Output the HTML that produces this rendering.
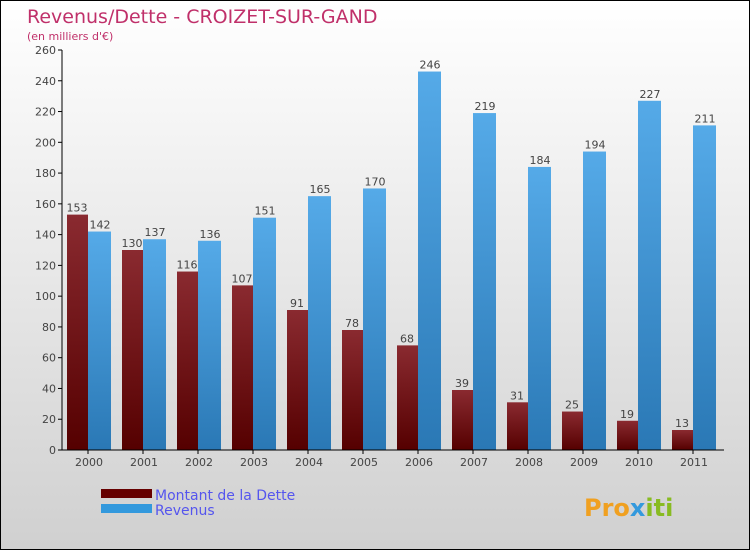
<!DOCTYPE html>
<html><head><meta charset="utf-8"><style>
body{margin:0}
#c{width:748px;height:548px;border:1px solid #000;background:linear-gradient(#ffffff,#d0d0d0);position:relative;overflow:hidden;font-family:"DejaVu Sans","Liberation Sans",sans-serif}
</style></head><body>
<div id="c">
<svg id="s" width="748" height="548">
<defs>
<linearGradient id="gd" x1="0" x2="0" y1="0" y2="1"><stop offset="0" stop-color="#8a2a30"/><stop offset="1" stop-color="#550000"/></linearGradient>
<linearGradient id="gr" x1="0" x2="0" y1="0" y2="1"><stop offset="0" stop-color="#55aae8"/><stop offset="1" stop-color="#2a78b5"/></linearGradient>
</defs>
<text x="26" y="22" font-size="19" fill="#c0306a">Revenus/Dette - CROIZET-SUR-GAND</text>
<text x="26" y="39" font-size="11" fill="#c0306a">(en milliers d'€)</text>
<g id="plot"></g>
<rect x="100" y="488" width="51" height="9" fill="#660000"/>
<rect x="100" y="503" width="51" height="9" fill="#3399dd"/>
<text x="154" y="499" font-size="14" fill="#5555ee">Montant de la Dette</text>
<text x="154" y="514" font-size="14" fill="#5555ee">Revenus</text>
<text x="583" y="515" font-size="24" font-weight="bold" fill="#f0a020">Pro<tspan fill="#3399dd">x</tspan><tspan fill="#88bb22">iti</tspan></text>
</svg>
</div>
<script>
const years=["2000","2001","2002","2003","2004","2005","2006","2007","2008","2009","2010","2011"];
const debt=[153,130,116,107,91,78,68,39,31,25,19,13];
const revenue=[142,137,136,151,165,170,246,219,184,194,227,211];
const ticks=[0,20,40,60,80,100,120,140,160,180,200,220,240,260];
const NS="http://www.w3.org/2000/svg";
const g=document.getElementById('plot');
const x0=61,y0=449,yTop=49,maxV=260,gw=55;
const y=v=>y0-(v/maxV)*(y0-yTop);
function mk(t,a,txt){const e=document.createElementNS(NS,t);for(const k in a)e.setAttribute(k,a[k]);if(txt!==undefined)e.textContent=txt;g.appendChild(e);return e;}
ticks.forEach(t=>{
 let l=mk('line',{x1:x0-4,x2:x0,y1:y(t),y2:y(t),stroke:'#000'});
 
 
 let tx=mk('text',{x:x0-6,y:y(t)+4,'font-size':11,'text-anchor':'end',fill:'#444'},t);
 
 
});
years.forEach((yr,i)=>{
 const gx=x0+i*gw;
 let b=mk('rect',{x:gx+5,y:y(debt[i]),width:21,height:y0-y(debt[i]),fill:'url(#gd)'});
 
 
 let r=mk('rect',{x:gx+26,y:y(revenue[i]),width:23,height:y0-y(revenue[i]),fill:'url(#gr)'});
 
 
 let v1=mk('text',{x:gx+15,y:y(debt[i])-3,'font-size':11,'text-anchor':'middle',fill:'#444'},debt[i]);
 
 
 let v2=mk('text',{x:gx+38,y:y(revenue[i])-3,'font-size':11,'text-anchor':'middle',fill:'#444'},revenue[i]);
 
 
 let tk=mk('line',{x1:gx+26,x2:gx+26,y1:y0,y2:y0+4,stroke:'#000'});
 
 
 let lb=mk('text',{x:gx+27,y:y0+16,'font-size':11,'text-anchor':'middle',fill:'#444'},yr);
 
 
});
let ax=mk('line',{x1:x0,x2:x0,y1:yTop,y2:y0,stroke:'#000'});


let axx=mk('line',{x1:x0,x2:723,y1:y0,y2:y0,stroke:'#000'});


</script>
</body></html>
